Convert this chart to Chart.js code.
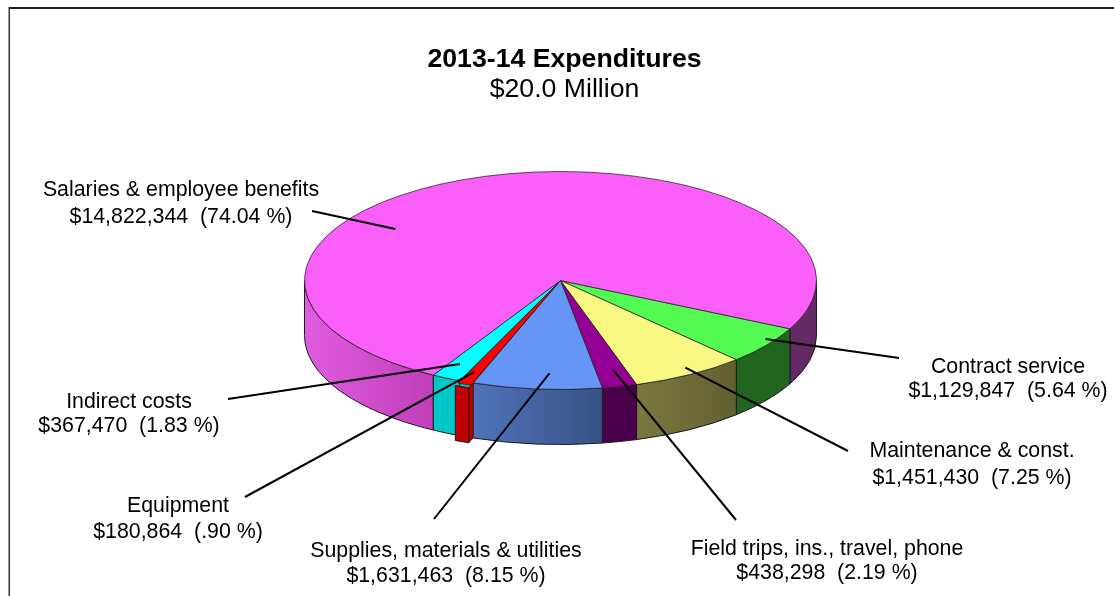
<!DOCTYPE html>
<html>
<head>
<meta charset="utf-8">
<title>2013-14 Expenditures</title>
<script src="https://cdn.jsdelivr.net/npm/chart.js@4/dist/chart.umd.js"></script>
<style>
  html, body { margin: 0; padding: 0; background: #fff; overflow: hidden; }
  canvas { display: block; }
</style>
</head>
<body>
<canvas id="pie" width="1114" height="596"></canvas>
<script>
const categories = ['Contract service', 'Maintenance & const.', 'Field trips, ins., travel, phone',
  'Supplies, materials & utilities', 'Equipment', 'Indirect costs', 'Salaries & employee benefits'];
const amounts = [1129847, 1451430, 438298, 1631463, 180864, 367470, 14822344];
const percents = [5.64, 7.25, 2.19, 8.15, 0.90, 1.83, 74.04];
const titleLine = '2013-14 Expenditures';
const subtitleLine = '$20.0 Million';

const topColors = ['#52fa52', '#f7f781', '#930093', '#6595f5', '#ff0000', '#00ffff', '#fa5ffa'];
// side wall colours, left to right
const wallColors = [
  ['#22651f', '#22651f'], ['#7a7840', '#625f30'], ['#4b004b', '#4b004b'], ['#4f73bb', '#375283'],
  ['#c00000', '#c00000'], ['#00c8c8', '#00c8c8'], ['#e05ce0', '#c03fb8']
];
const salariesRightWall = '#642a66';
const edgeColor = '#1c1c1c';

const squash = 0.4258;
const depth = 55;

// label placement: centre x, two baselines, outer end of the leader,
// and where the leader lands inside its slice (fraction of sweep, fraction of radius)
const labelSpots = [
  { x: 1008, y: [373, 397], out: [899, 358], tip: [0.37, 0.964] },
  { x: 972, y: [457, 484], out: [848, 451], tip: [0.46, 0.937] },
  { x: 827, y: [555, 579], out: [736, 520], tip: [0.41, 0.843] },
  { x: 446, y: [557, 582], out: [434, 519], tip: [0.42, 0.853] },
  { x: 178, y: [512, 538], out: [245, 497], tip: [0.6, 0.86] },
  { x: 129, y: [408, 432], out: [228, 399], tip: [0.6, 0.86] },
  { x: 181, y: [196, 223], out: [312, 211], tip: [0.362, 0.8] }
];

function labelMoney(i) {
  const pct = percents[i].toFixed(2).replace(/^0/, '');
  return '$' + amounts[i].toLocaleString('en-US') + '  (' + pct + ' %)';
}

// visible (front facing) angle ranges of an arc
function frontRanges(start, end) {
  const out = [];
  [[0, Math.PI], [2 * Math.PI, 3 * Math.PI]].forEach(function (win) {
    const a = Math.max(start, win[0]);
    const b = Math.min(end, win[1]);
    if (b > a) out.push([a, b]);
  });
  return out;
}

function arcShift(arc) {
  const mid = (arc.startAngle + arc.endAngle) / 2;
  const off = arc.options.offset || 0;
  return { x: Math.cos(mid) * off, y: Math.sin(mid) * off * squash };
}

function drawWall(ctx, arc, colors) {
  const s = arcShift(arc);
  const cx = arc.x + s.x;
  const cy = arc.y + s.y;
  const r = arc.outerRadius;
  frontRanges(arc.startAngle, arc.endAngle).forEach(function (range) {
    const a = range[0];
    const b = range[1];
    const xa = cx + Math.cos(a) * r;
    const xb = cx + Math.cos(b) * r;
    const grad = ctx.createLinearGradient(Math.min(xa, xb), 0, Math.max(xa, xb), 0);
    // the big slice wraps round, its part past 360 degrees sits on the dark right side
    const wrapped = a >= 2 * Math.PI;
    grad.addColorStop(0, wrapped ? salariesRightWall : colors[0]);
    grad.addColorStop(1, wrapped ? salariesRightWall : colors[1]);
    ctx.beginPath();
    ctx.ellipse(cx, cy, r, r * squash, 0, a, b);
    ctx.lineTo(cx + Math.cos(b) * r, cy + Math.sin(b) * r * squash + depth);
    ctx.ellipse(cx, cy + depth, r, r * squash, 0, b, a, true);
    ctx.closePath();
    ctx.fillStyle = grad;
    ctx.fill();
    ctx.strokeStyle = edgeColor;
    ctx.lineWidth = 1;
    ctx.stroke();
  });
}

// cut face of a slice, from its rim corner back to the centre
function drawCutFace(ctx, arc, angle, color) {
  const s = arcShift(arc);
  const cx = arc.x + s.x;
  const cy = arc.y + s.y;
  const px = cx + Math.cos(angle) * arc.outerRadius;
  const py = cy + Math.sin(angle) * arc.outerRadius * squash;
  ctx.beginPath();
  ctx.moveTo(px, py);
  ctx.lineTo(cx, cy);
  ctx.lineTo(cx, cy + depth);
  ctx.lineTo(px, py + depth);
  ctx.closePath();
  ctx.fillStyle = color;
  ctx.fill();
  ctx.strokeStyle = edgeColor;
  ctx.lineWidth = 1;
  ctx.stroke();
}

const pie3d = {
  id: 'pie3d',
  beforeDraw(chart) {
    const ctx = chart.ctx;
    ctx.save();
    ctx.fillStyle = '#fff';
    ctx.fillRect(0, 0, chart.width, chart.height);
    // frame, top and left only
    ctx.fillStyle = '#999';
    ctx.fillRect(8, 7, 1, chart.height - 7);
    ctx.fillStyle = '#333';
    ctx.fillRect(9, 7, 1, chart.height - 7);
    ctx.fillStyle = '#222';
    ctx.fillRect(9, 7, chart.width - 9, 2);
    ctx.restore();
  },
  beforeDatasetsDraw(chart) {
    const ctx = chart.ctx;
    const arcs = chart.getDatasetMeta(0).data;
    ctx.save();
    // back to front, the pulled out slice and the wall in front of it last
    [6, 0, 1, 2, 5].forEach(function (i) { drawWall(ctx, arcs[i], wallColors[i]); });
    drawCutFace(ctx, arcs[5], arcs[5].startAngle, wallColors[5][0]);
    drawCutFace(ctx, arcs[4], arcs[4].startAngle, wallColors[4][0]);
    drawWall(ctx, arcs[4], wallColors[4]);
    drawWall(ctx, arcs[3], wallColors[3]);
    ctx.restore();
    // flatten the disc the library draws
    const cy = arcs[0].y;
    ctx.save();
    ctx.translate(0, cy);
    ctx.scale(1, squash);
    ctx.translate(0, -cy);
  },
  afterDatasetsDraw(chart) {
    const ctx = chart.ctx;
    ctx.restore();
    const arcs = chart.getDatasetMeta(0).data;
    ctx.save();
    ctx.strokeStyle = '#000';
    ctx.lineWidth = 2;
    labelSpots.forEach(function (spot, i) {
      const arc = arcs[i];
      const s = arcShift(arc);
      const a = arc.startAngle + (arc.endAngle - arc.startAngle) * spot.tip[0];
      const r = arc.outerRadius * spot.tip[1];
      ctx.beginPath();
      ctx.moveTo(spot.out[0], spot.out[1]);
      ctx.lineTo(arc.x + s.x + Math.cos(a) * r, arc.y + s.y + Math.sin(a) * r * squash);
      ctx.stroke();
    });
    ctx.restore();
  },
  afterDraw(chart) {
    const ctx = chart.ctx;
    ctx.save();
    ctx.fillStyle = '#000';
    ctx.textAlign = 'center';
    ctx.textBaseline = 'alphabetic';
    ctx.font = 'bold 26.67px "Liberation Sans", Arial, sans-serif';
    ctx.fillText(titleLine, 564.5, 67);
    ctx.font = '26.67px "Liberation Sans", Arial, sans-serif';
    ctx.fillText(subtitleLine, 564.5, 97);
    ctx.font = '21.33px "Liberation Sans", Arial, sans-serif';
    labelSpots.forEach(function (spot, i) {
      ctx.fillText(categories[i], spot.x, spot.y[0]);
      ctx.fillText(labelMoney(i), spot.x, spot.y[1]);
    });
    ctx.restore();
  }
};

new Chart(document.getElementById('pie'), {
  type: 'pie',
  data: {
    labels: categories,
    datasets: [{
      data: amounts,
      backgroundColor: topColors,
      borderColor: edgeColor,
      borderWidth: 1,
      offset: [0, 0, 0, 0, 12, 0, 0],
      clip: false
    }]
  },
  options: {
    responsive: false,
    animation: false,
    rotation: 116.3,
    layout: { padding: { left: 298, right: 291, top: 18, bottom: 53 } },
    plugins: { legend: { display: false }, tooltip: { enabled: false } }
  },
  plugins: [pie3d]
});
</script>
</body>
</html>
